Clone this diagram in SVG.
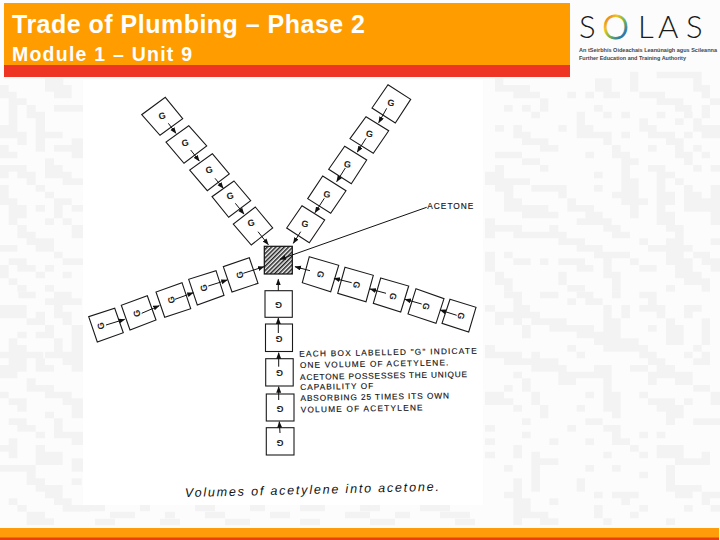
<svg xmlns="http://www.w3.org/2000/svg" width="720" height="540" viewBox="0 0 720 540">
<style>
.blk{fill:none;stroke:#f3f3f3;stroke-width:20}
.box{fill:#fff;stroke:#1a1a1a;stroke-width:1.1}
.g{font:bold 9px "Liberation Sans",Arial,sans-serif;fill:#222;text-anchor:middle}
.flow{fill:none;stroke:#111;stroke-width:1;marker-end:url(#ah)}
.lab{font:8.3px "Liberation Sans",Arial,sans-serif;fill:#111;stroke:#111;stroke-width:.15}
.head{font-family:"Liberation Sans",Arial,sans-serif;font-weight:bold;fill:#fff}
.small{font:bold 5.6px "Liberation Sans",Arial,sans-serif;fill:#444}
</style>
<defs>
<marker id="ah" markerUnits="userSpaceOnUse" markerWidth="7" markerHeight="6" refX="6" refY="2.5" orient="auto"><path d="M0 0L6.500 2.500L0 5z" fill="#111"/></marker>
<pattern id="hatch" patternUnits="userSpaceOnUse" width="3" height="3" patternTransform="rotate(-45)"><rect width="3" height="3" fill="#f4f4f4"/><rect width="3" height="1.500" fill="#222"/></pattern>
<linearGradient id="ring" gradientUnits="userSpaceOnUse" x1="603" y1="16" x2="628" y2="38"><stop offset="0" stop-color="#e8502a"/><stop offset=".3" stop-color="#f0c419"/><stop offset=".55" stop-color="#7cb342"/><stop offset=".8" stop-color="#2a7fa8"/><stop offset="1" stop-color="#5b3a92"/></linearGradient>
</defs>
<rect width="720" height="540" fill="#fcfcfc"/>
<g id="background">
<path class="blk" transform="translate(480 70) scale(.3333)" d="M450 15h25M530 15h135M45 35h25M345 35h50M450 35h25M640 35h25M45 55h105M345 55h50M450 55h25M640 55h50M100 75h80M262 75h26M316 75h26M370 75h50M478 75h77M665 75h25M180 95h25M530 95h80M690 95h30M72 115h26M126 115h26M180 115h25M342 115h26M585 115h50M665 115h25M154 135h26M290 135h25M370 135h25M424 135h26M530 135h26M612 135h26M665 135h25M290 155h25M478 155h26M585 155h26M640 155h25M45 175h27M100 175h26M235 175h25M290 175h50M478 175h52M640 175h80M100 195h52M290 195h105M424 195h26M504 195h81M612 195h26M665 195h55M126 215h79M370 215h25M558 215h53M180 235h55M396 235h26M504 235h26M585 235h26M640 235h25M45 255h81M316 255h26M396 255h54M585 255h53M665 255h25M126 275h54M424 275h52M612 275h26M45 295h27M180 295h25M424 295h26M504 295h52M640 295h25M692 295h28M15 315h57M342 315h26M424 315h26M530 315h55M15 335h135M424 335h52M530 335h26M585 335h26M45 355h55M154 355h106M342 355h26M424 355h52M530 355h26M612 355h26M692 355h28M72 375h28M235 375h25M396 375h80M530 375h55M612 375h53M692 375h28M72 395h54M262 395h26M424 395h80M530 395h55M612 395h108M72 415h133M262 415h80M450 415h26M530 415h26M612 415h108M126 435h109M316 435h52M450 435h26M530 435h55M692 435h28M15 455h30M290 455h105M530 455h55M692 455h28M15 475h111M208 475h27M370 475h52M558 475h53M15 495h30M100 495h160M396 495h54M585 495h26M235 515h80M478 515h26M558 515h53M692 515h28M290 535h78M504 535h134M15 555h30M72 555h26M342 555h108M558 555h53M640 555h50M15 575h30M100 575h52M180 575h25M235 575h80M370 575h25M450 575h26M558 575h80M665 575h55M15 595h30M290 595h50M370 595h25M478 595h52M585 595h53M692 595h28M45 615h27M235 615h25M370 615h52M585 615h80M45 635h53M235 635h25M396 635h26M612 635h78M72 655h26M262 655h53M396 655h26M558 655h27M665 655h25"/>
<path class="blk" transform="translate(480 290) scale(.3333)" d="M72 15h54M180 15h55M290 15h50M396 15h26M478 15h52M100 35h26M262 35h26M316 35h52M504 35h26M15 55h30M100 55h50M370 55h25M424 55h26M478 55h78M612 55h53M45 75h135M370 75h25M424 75h26M530 75h26M612 75h26M45 95h27M100 95h26M154 95h106M370 95h52M558 95h27M665 95h25M126 115h26M208 115h134M370 115h52M504 115h26M558 115h53M665 115h25M126 135h26M290 135h132M558 135h53M665 135h25M342 155h134M558 155h53M665 155h25M15 175h30M262 175h26M370 175h134M640 175h25M15 195h111M154 195h26M290 195h25M478 195h52M612 195h26M665 195h25M72 215h163M504 215h52M640 215h50M154 235h106M342 235h53M450 235h54M530 235h55M100 255h26M235 255h160M504 255h134M126 275h26M235 275h53M370 275h25M504 275h26M585 275h53M72 295h26M126 295h26M370 295h25M640 295h50M15 315h57M154 315h26M316 315h26M370 315h52M478 315h26M692 315h28M15 335h85M154 335h26M370 335h52M504 335h81M612 335h26M692 335h28M100 355h26M180 355h25M290 355h25M370 355h52M530 355h81M180 375h25M396 375h26M558 375h53M126 395h26M316 395h52M558 395h27M640 395h80M15 415h30M262 415h26M370 415h52M126 435h26M396 435h26M478 435h26M530 435h26M15 455h30M208 455h27M316 455h26M396 455h54M100 475h26M450 475h26M530 475h81M15 495h30M100 495h26M154 495h26M370 495h25M478 495h26M530 495h81M665 495h25M154 515h81M585 515h105M72 535h26M154 535h26M316 535h26M396 535h26M558 535h27M154 555h26M478 555h26M558 555h27M100 575h26M154 575h26M290 575h25M558 575h27M100 595h26M154 595h26M290 595h25M558 595h107M72 615h54M342 615h26M396 615h80M585 615h53M665 615h55M100 635h52M208 635h27M424 635h26M665 635h25M100 655h52M342 655h26M478 655h26M612 655h26M692 655h28M100 675h105M342 675h26M450 675h26M100 695h26M180 695h55M370 695h25M558 695h27"/>
<path class="blk" transform="translate(0 70) scale(.3333)" d="M135 35h55M0 55h26M135 55h80M0 75h50M162 75h53M26 95h54M26 115h26M80 115h27M162 115h88M26 135h26M80 135h55M26 155h26M107 155h28M0 175h52M107 175h28M0 195h80M107 195h81M52 215h28M107 215h28M215 215h35M0 235h26M107 235h28M162 235h88M0 255h52M215 255h35M135 275h27M0 295h80M135 295h53M0 315h26M52 315h55M135 315h80M80 335h27M188 335h62M0 355h26M107 355h28M0 375h26M135 375h27M0 395h52M162 395h53M26 415h54M107 415h28M162 415h26M215 415h35M26 435h54M162 435h26M26 455h26M135 455h27M188 455h27M52 475h28M215 475h35M52 495h55M215 495h35M80 515h82M0 535h52M107 535h55M162 555h26M26 575h54M188 575h62M0 595h26M52 595h55M135 595h27M0 615h26M107 615h28M188 615h27M26 635h26M52 655h28M135 655h27"/>
<path class="blk" transform="translate(0 290) scale(.3333)" d="M55 15h52M162 15h53M135 35h110M0 55h80M162 55h26M0 75h80M107 75h28M162 75h53M80 95h55M188 95h27M135 115h27M215 115h35M52 135h28M107 135h55M215 135h35M26 155h26M162 155h26M215 155h35M26 175h54M162 175h26M215 175h35M0 195h130M135 195h115M26 215h54M107 215h28M188 215h62M0 235h80M107 235h55M215 235h35M0 255h52M80 275h27M80 295h82M0 315h26M135 315h80M26 335h54M188 335h62M52 355h28M215 355h35M135 375h27M215 375h35M26 395h54M162 395h26M52 415h55M162 415h26M107 435h28M162 435h88M26 455h26M215 455h35M0 475h52M107 475h28M26 495h26M107 495h81M107 515h81M215 515h35M0 535h107M215 535h35M80 555h27M80 575h55M215 575h30M107 595h81M135 615h53M26 635h26M162 635h53M52 655h28M188 655h82M80 675h55M80 695h82"/>
<path class="blk" style="stroke-width:6.700" d="M85 508h20M140 508h10M195 508h20M250 508h15M300 508h25M360 508h20M420 508h30M110 515h25M165 515h10M205 515h20M270 515h20M345 515h25M395 515h15M440 515h30M95 522h20M160 522h20M225 522h25M300 522h20M370 522h25M455 522h20"/>
<rect x="83" y="80" width="400" height="425" fill="#fff"/>
</g>
<g id="header">
<rect x="4" y="3" width="566" height="62" fill="#ff9c00"/>
<rect x="4" y="65" width="566" height="12" fill="#ee3524"/>
<text class="head" x="12" y="33" font-size="25" textLength="353">Trade of Plumbing – Phase 2</text>
<text class="head" x="12" y="61" font-size="19.500" textLength="180">Module 1 – Unit 9</text>
</g>
<g id="logo">
<text x="579 602.500 638 658 686" y="38" font-family="Lato,'Open Sans',sans-serif" font-weight="300" font-size="31" fill="#1a1a1a">S<tspan font-size="33" dy=".6" fill="url(#ring)" stroke="url(#ring)" stroke-width="1">O</tspan><tspan dy="-.6">LAS</tspan></text>
<text class="small" x="579" y="52" textLength="138" lengthAdjust="spacingAndGlyphs">An tSeirbhís Oideachais Leanúnaigh agus Scileanna</text>
<text class="small" x="579" y="60" textLength="107" lengthAdjust="spacingAndGlyphs">Further Education and Training Authority</text>
</g>
<g id="footer">
<rect x="0" y="528" width="719" height="10" fill="#ff9c0a"/>
<rect x="0" y="537.500" width="719" height="2.500" fill="#e8410f"/>
</g>
<g id="tl1"><polygon class="box" points="165.300,97.300 182.700,118.700 160,135.300 141.700,114.700"/><text class="g" transform="translate(162 116) rotate(-15)" y="3">G</text></g>
<g id="tl2"><polygon class="box" points="188.700,125.700 206.700,146 184,163.300 166,142"/><text class="g" transform="translate(185 143) rotate(-15)" y="3">G</text></g>
<g id="tl3"><polygon class="box" points="212.300,153.700 229.300,174 207.300,190.700 189.700,170"/><text class="g" transform="translate(209 170) rotate(-15)" y="3">G</text></g>
<g id="tl4"><polygon class="box" points="234,181 250.700,200.700 228.700,217.300 212,196.700"/><text class="g" transform="translate(230 196) rotate(-15)" y="3">G</text></g>
<g id="tl5"><polygon class="box" points="255.300,207 272.700,228 251.300,245 233.300,224"/><text class="g" transform="translate(251 223) rotate(-15)" y="3">G</text></g>
<g id="tr1"><polygon class="box" points="388,84.700 410.700,99.300 395.300,123 372,108"/><text class="g" transform="translate(391 103) rotate(10)" y="3">G</text></g>
<g id="tr2"><polygon class="box" points="366,116.700 388.700,130.700 373.300,153.300 350,138.700"/><text class="g" transform="translate(369.500 134) rotate(10)" y="3">G</text></g>
<g id="tr3"><polygon class="box" points="344.700,146.300 366.700,160 351.300,183.700 328.700,169.300"/><text class="g" transform="translate(347.500 164.500) rotate(10)" y="3">G</text></g>
<g id="tr4"><polygon class="box" points="322.700,176 346,190.700 330.700,213.300 307.700,198.700"/><text class="g" transform="translate(327 194.500) rotate(10)" y="3">G</text></g>
<g id="tr5"><polygon class="box" points="302,205.700 324.700,220 309.300,242.700 286.700,228"/><text class="g" transform="translate(305 224) rotate(10)" y="3">G</text></g>
<g id="l1"><polygon class="box" points="114.700,308.300 123.300,332.700 97.300,342 88.700,316.700"/><text class="g" transform="translate(101 326) rotate(-105)" y="3">G</text></g>
<g id="l2"><polygon class="box" points="147.300,295.700 156,320 130,330 121.300,305.300"/><text class="g" transform="translate(137 313.500) rotate(-105)" y="3">G</text></g>
<g id="l3"><polygon class="box" points="182,282.700 190.700,308.700 164.700,317.300 156,292"/><text class="g" transform="translate(171.500 300) rotate(-105)" y="3">G</text></g>
<g id="l4"><polygon class="box" points="216,270.700 224,295.300 197.300,305 188.700,279.300"/><text class="g" transform="translate(204 288) rotate(-105)" y="3">G</text></g>
<g id="l5"><polygon class="box" points="249.300,257.700 258,283.300 232,292 223.300,266.700"/><text class="g" transform="translate(240 275) rotate(-105)" y="3">G</text></g>
<g id="r1"><polygon class="box" points="309.300,256.700 338.700,265.300 330.700,291.700 302.300,282.700"/><text class="g" transform="translate(320.500 274.500) rotate(105)" y="3">G</text></g>
<g id="r2"><polygon class="box" points="345,267.300 373.300,275.300 366,301.700 337.700,293.300"/><text class="g" transform="translate(356.500 285) rotate(105)" y="3">G</text></g>
<g id="r3"><polygon class="box" points="380.700,278 408.700,286 400.700,312 373.300,303.300"/><text class="g" transform="translate(393 296.500) rotate(105)" y="3">G</text></g>
<g id="r4"><polygon class="box" points="416,288.700 444,298.700 436,323.300 408,314"/><text class="g" transform="translate(426 306.500) rotate(105)" y="3">G</text></g>
<g id="r5"><polygon class="box" points="450,299.300 476,307.300 468.700,332 442,323.300"/><text class="g" transform="translate(461 316) rotate(105)" y="3">G</text></g>
<g id="b1"><rect class="box" x="265" y="290.700" width="27.300" height="26.600"/><text class="g" transform="translate(278.500 304.500) rotate(180)" y="3">G</text></g>
<g id="b2"><rect class="box" x="265.500" y="324" width="27" height="27.500"/><text class="g" transform="translate(279 339) rotate(180)" y="3">G</text></g>
<g id="b3"><rect class="box" x="265.700" y="358.700" width="27.500" height="27.300"/><text class="g" transform="translate(279.500 373) rotate(180)" y="3">G</text></g>
<g id="b4"><rect class="box" x="266.300" y="394" width="27.700" height="27"/><text class="g" transform="translate(280 408.500) rotate(180)" y="3">G</text></g>
<g id="b5"><rect class="box" x="266.300" y="427.700" width="27.700" height="27.300"/><text class="g" transform="translate(280 442.500) rotate(180)" y="3">G</text></g>
<g id="acetone-tank"><rect x="264.300" y="246.300" width="28" height="27.700" fill="url(#hatch)" stroke="#111" stroke-width="1.200"/></g>
<g id="connectors">
<path class="flow" d="M168.300 123.300L176 133.300"/><path class="flow" d="M190.700 150L199.300 161"/><path class="flow" d="M215 178.300L223.300 188.300"/><path class="flow" d="M235.300 203.300L244 214"/><path class="flow" d="M258 231.700L268.300 244.700"/>
<path class="flow" d="M386.700 108.300L378.700 122.700"/><path class="flow" d="M366 138.300L357.300 152"/><path class="flow" d="M345.300 168L336.700 181.700"/><path class="flow" d="M324.300 198.300L315 212.700"/><path class="flow" d="M300.700 231.700L293.300 243.300"/>
<path class="flow" d="M106 325L124.700 319.300"/><path class="flow" d="M141.700 313.300L159.300 305.700"/><path class="flow" d="M175 299.300L193.300 292.700"/><path class="flow" d="M208.300 286L227.300 280"/><path class="flow" d="M243.300 273.300L264 266.700"/>
<path class="flow" d="M310 270.700L295 266.700"/><path class="flow" d="M351.700 282.700L334 278.300"/><path class="flow" d="M386 293.300L370 289"/><path class="flow" d="M421.700 304L405 299.300"/><path class="flow" d="M456.700 315.300L440 310"/>
<path class="flow" d="M278.300 290.700V279.300"/><path class="flow" d="M278.300 333V318"/><path class="flow" d="M278.700 366.700V352.700"/><path class="flow" d="M278.700 400V386.700"/><path class="flow" d="M280 433L279.300 421.700"/>
<path class="flow" d="M426.700 207.300L280 259.300"/>
</g>
<g id="labels">
<text class="lab" x="427.300" y="208.700" textLength="46">ACETONE</text>
<g transform="rotate(-1 300 356)">
<text class="lab" x="299.300" y="356.700" textLength="177.500">EACH BOX LABELLED "G" INDICATE</text>
<text class="lab" x="299.700" y="368" textLength="148.500">ONE VOLUME OF ACETYLENE.</text>
<text class="lab" x="299.700" y="380" textLength="167">ACETONE POSSESSES THE UNIQUE</text>
<text class="lab" x="299.700" y="390" textLength="73">CAPABILITY OF</text>
<text class="lab" x="299.700" y="401" textLength="148.500">ABSORBING 25 TIMES ITS OWN</text>
<text class="lab" x="299.700" y="412.500" textLength="122">VOLUME OF ACETYLENE</text>
</g>
<text transform="rotate(-1.400 185 497)" x="185" y="497" font-family="'Liberation Sans',Arial,sans-serif" font-style="italic" font-size="12.500" fill="#111" textLength="254">Volumes of acetylene into acetone.</text>
</g>
</svg>
